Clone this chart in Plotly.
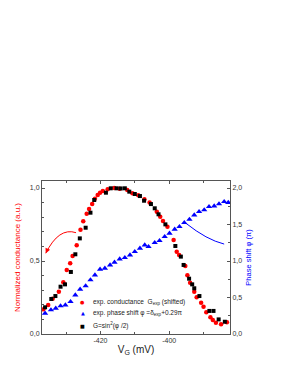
import plotly.graph_objects as go

# exp. conductance (shifted) - red circles
vg_red = [-436.6, -435.2, -433.9, -432.1, -430.8, -429.8, -428.8, -428.1, -426.9, -425.8,
          -425.0, -424.0, -423.3, -422.4, -421.6, -420.8, -420.1, -419.3, -417.9, -416.0,
          -414.4, -412.2, -410.7, -409.0, -407.2, -405.7, -403.6, -402.6, -401.8, -400.5,
          -398.7, -397.8, -397.1, -395.3, -394.7, -393.9, -392.7, -392.0, -390.7, -390.0,
          -389.2, -388.0, -387.3, -386.4, -384.9, -383.2]
g_red = [0.169, 0.199, 0.242, 0.290, 0.354, 0.438, 0.484, 0.534, 0.608, 0.714,
         0.772, 0.824, 0.856, 0.890, 0.927, 0.952, 0.968, 0.979, 0.991, 1.000,
         0.995, 0.986, 0.964, 0.950, 0.923, 0.900, 0.838, 0.803, 0.774, 0.735,
         0.644, 0.564, 0.541, 0.466, 0.402, 0.351, 0.290, 0.251, 0.214, 0.187,
         0.149, 0.114, 0.096, 0.077, 0.066, 0.080]

# G = sin^2(phi/2) - black squares
vg_blk = [-436.1, -434.3, -433.1, -431.6, -430.3, -428.6, -427.3, -426.0, -424.3, -422.9,
          -421.8, -418.4, -417.0, -415.3, -414.1, -412.9, -411.6, -410.0, -408.5, -407.3,
          -405.3, -404.2, -403.1, -401.1, -398.2, -396.6, -395.8, -394.2, -393.3, -392.7,
          -391.2, -388.3, -387.1, -385.6, -383.8]
g_blk = [0.183, 0.240, 0.260, 0.324, 0.340, 0.425, 0.546, 0.655, 0.728, 0.831,
         0.918, 0.968, 0.998, 0.998, 0.997, 0.998, 0.975, 0.959, 0.945, 0.913,
         0.890, 0.861, 0.820, 0.751, 0.603, 0.530, 0.473, 0.379, 0.340, 0.313,
         0.260, 0.158, 0.158, 0.100, 0.084]

# exp. phase shift - blue triangles (units of pi)
vg_blue = [-436.1, -434.4, -433.0, -431.6, -430.2, -428.7, -427.3, -425.9, -424.3, -422.9,
           -421.6, -420.1, -418.7, -417.2, -415.9, -414.4, -412.9, -411.4, -410.0, -408.5,
           -407.1, -406.0, -404.2, -402.8, -401.3, -399.9, -398.4, -397.0, -395.6, -394.1,
           -392.7, -391.3, -389.8, -388.4, -386.9, -385.5, -384.0, -382.8]
phi_blue = [0.284, 0.329, 0.352, 0.384, 0.397, 0.442, 0.534, 0.612, 0.658, 0.740,
            0.808, 0.886, 0.900, 0.945, 0.982, 1.027, 1.045, 1.082, 1.127, 1.174,
            1.219, 1.196, 1.251, 1.278, 1.333, 1.379, 1.434, 1.470, 1.525, 1.570,
            1.630, 1.675, 1.699, 1.744, 1.753, 1.781, 1.812, 1.800]

x_ticks = [-420, -400]
left_ticks = [0.0, 0.5, 1.0]
left_labels = ["0,0", "0,5", "1,0"]
right_ticks = [0.0, 0.5, 1.0, 1.5, 2.0]
right_labels = ["0,0", "0,5", "1,0", "1,5", "2,0"]

legend_labels = ["exp. conductance  G<sub>exp</sub> (shifted)",
                 "exp. phase shift φ =δ<sub>exp</sub>+0.29π",
                 "G=sin<sup>2</sup>(φ /2)"]

FONT = "Liberation Sans, Arial, sans-serif"
RED = "#ff0000"
BLUE = "#0000ff"

fig = go.Figure()
fig.add_trace(go.Scatter(x=vg_red, y=g_red, mode="markers", yaxis="y",
                         marker=dict(symbol="circle", size=4.5, color=RED),
                         name=legend_labels[0], showlegend=False))
fig.add_trace(go.Scatter(x=vg_blue, y=phi_blue, mode="markers", yaxis="y2",
                         marker=dict(symbol="triangle-up", size=5.5, color=BLUE),
                         name=legend_labels[1], showlegend=False))
fig.add_trace(go.Scatter(x=vg_blk, y=g_blk, mode="markers", yaxis="y",
                         marker=dict(symbol="square", size=4, color="black"),
                         name=legend_labels[2], showlegend=False))

# manual legend (symbols + labels as text)
leg_syms = ["●", "▲", "■"]
leg_cols = [RED, BLUE, "black"]
leg_y = [0.211, 0.135, 0.054]
for sym, col, lab, yy in zip(leg_syms, leg_cols, legend_labels, leg_y):
    fig.add_annotation(x=0.218, y=yy, xref="paper", yref="paper", text=sym,
                       showarrow=False, xanchor="center", yanchor="middle",
                       font=dict(family="DejaVu Sans", size=5, color=col))
    fig.add_annotation(x=0.262, y=yy, xref="paper", yref="paper", text=lab,
                       showarrow=False, xanchor="left", yanchor="middle",
                       font=dict(family=FONT, size=6.5, color="#222222"))

# curved arrows
fig.add_shape(type="path", xref="x", yref="y",
              path="M -427.1,0.694 Q -432.1,0.733 -435.9,0.553",
              line=dict(color=RED, width=1))
fig.add_annotation(x=-435.9, y=0.553, ax=-435.4, ay=0.58, axref="x", ayref="y",
                   xref="x", yref="y", text="", showarrow=True, arrowhead=2,
                   arrowsize=1, arrowwidth=1, arrowcolor=RED, standoff=0)
fig.add_shape(type="path", xref="x", yref="y",
              path="M -395.1,0.758 Q -389.05,0.645 -384.0,0.616",
              line=dict(color=BLUE, width=1))
fig.add_annotation(x=-384.0, y=0.616, ax=-384.8, ay=0.620, axref="x", ayref="y",
                   xref="x", yref="y", text="", showarrow=True, arrowhead=2,
                   arrowsize=1, arrowwidth=1, arrowcolor=BLUE, standoff=0)

axis_common = dict(showline=True, linecolor="#555555", linewidth=1, ticks="inside",
                   ticklen=3, tickcolor="#555555", showgrid=False, zeroline=False,
                   automargin=False,
                   tickfont=dict(family=FONT, size=7, color="#333333"))

fig.update_layout(
    width=291, height=376,
    margin=dict(l=42, r=61, t=181, b=42),
    paper_bgcolor="white", plot_bgcolor="white",
    font=dict(family=FONT, size=7, color="#333333"),
    showlegend=False,
    xaxis=dict(range=[-437, -382.3], tickvals=x_ticks, ticktext=[str(v) for v in x_ticks],
               mirror="ticks",
               minor=dict(dtick=10, tick0=-400, ticks="inside", ticklen=2, tickcolor="#555555"),
               title=dict(text="V<sub>G</sub> (mV)", font=dict(family=FONT, size=10, color="#222222"),
                          standoff=2),
               **axis_common),
    yaxis=dict(range=[0, 1.048], tickvals=left_ticks, ticktext=left_labels,
               minor=dict(dtick=0.1, ticks="inside", ticklen=2, tickcolor="#555555"),
               title=dict(text="Normalized conductance (a.u.)",
                          font=dict(family=FONT, size=8, color=RED), standoff=8),
               **axis_common),
    yaxis2=dict(range=[0, 2.096], tickvals=right_ticks, ticktext=right_labels,
                overlaying="y", side="right",
                minor=dict(dtick=0.25, ticks="inside", ticklen=2, tickcolor="#555555"),
                title=dict(text="Phase shift φ (π)",
                           font=dict(family=FONT, size=7.5, color=BLUE), standoff=4),
                **axis_common),
)

fig.write_html("out.html", config={"displayModeBar": False},
               post_script="document.body.style.margin='0';")
